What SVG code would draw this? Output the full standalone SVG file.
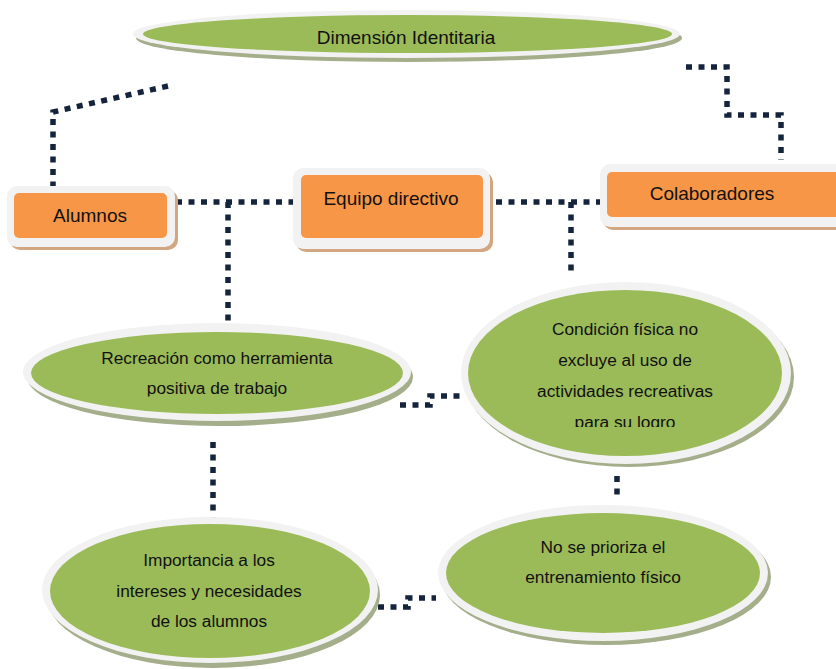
<svg xmlns="http://www.w3.org/2000/svg" width="836" height="669" viewBox="0 0 836 669">
<style>
.conn{fill:none;stroke:#15243d;stroke-width:5.5;stroke-dasharray:6 6.5}
.rim{fill:#f2f2f2}
.bshadow{fill:#d2a680}
.eshadow{fill:#a4ae8a}
.box{fill:#f79646}
.ell{fill:#9bbb59}
text{font-family:"Liberation Sans",Arial,sans-serif;fill:#111;text-anchor:middle}
.t19{font-size:19px}
.t17{font-size:17.3px}
</style>
<defs>
<clipPath id="clipRec"><rect x="0" y="300" width="460" height="96.5"/></clipPath>
<clipPath id="clipCon"><rect x="450" y="280" width="386" height="147"/></clipPath>
</defs>
<rect width="836" height="669" fill="#ffffff"/>

<g id="connectors">
<path class="conn" d="M168,86 L53,112 V188"/>
<path class="conn" d="M176,202 H294"/>
<path class="conn" d="M228,202 V328"/>
<path class="conn" d="M496,202 H600"/>
<path class="conn" d="M571,202 V276"/>
<path class="conn" d="M686,67 H727 V115 H781 V160"/>
<path class="conn" d="M400,405 H430 V396 H460"/>
<path class="conn" d="M213,442 V518"/>
<path class="conn" d="M617,476 V498"/>
<path class="conn" d="M378,607 H408 V598 H436"/>
</g>

<g id="dimension">
<ellipse class="eshadow" cx="409" cy="38" rx="273" ry="24"/>
<ellipse class="rim" cx="406.5" cy="34" rx="273.5" ry="24"/>
<ellipse class="ell" cx="407.5" cy="34" rx="264.5" ry="19"/>
<text class="t19" x="406" y="44">Dimensión Identitaria</text>
</g>

<g id="alumnos">
<rect class="bshadow" x="10" y="190" width="168" height="60" rx="10"/>
<rect class="rim" x="7" y="186" width="168" height="61" rx="10"/>
<rect class="box" x="14" y="193" width="153" height="45" rx="5"/>
<text class="t19" x="90" y="222">Alumnos</text>
</g>

<g id="equipo">
<rect class="bshadow" x="296" y="172" width="197" height="80" rx="10"/>
<rect class="rim" x="293" y="168" width="197" height="81" rx="10"/>
<rect class="box" x="301" y="175" width="182" height="63" rx="5"/>
<text class="t19" x="391" y="205">Equipo directivo</text>
</g>

<g id="colaboradores">
<rect class="bshadow" x="603" y="168" width="250" height="62" rx="10"/>
<rect class="rim" x="600" y="164" width="250" height="63" rx="10"/>
<rect class="box" x="607" y="172" width="240" height="45" rx="5"/>
<text class="t19" x="712" y="200">Colaboradores</text>
</g>

<g id="recreacion">
<ellipse class="eshadow" cx="220" cy="377" rx="193" ry="49"/>
<ellipse class="rim" cx="217" cy="372" rx="194" ry="49"/>
<ellipse class="ell" cx="217" cy="373" rx="186" ry="41"/>
<g clip-path="url(#clipRec)">
<text class="t17" x="217" y="364">Recreación como herramienta</text>
<text class="t17" x="217" y="394">positiva de trabajo</text>
</g>
</g>

<g id="condicion">
<ellipse class="eshadow" cx="629" cy="377" rx="165" ry="90"/>
<ellipse class="rim" cx="626" cy="373" rx="165" ry="91"/>
<ellipse class="ell" cx="625" cy="373" rx="157" ry="83"/>
<g clip-path="url(#clipCon)">
<text class="t17" x="625" y="335">Condición física no</text>
<text class="t17" x="625" y="366">excluye al uso de</text>
<text class="t17" x="625" y="397">actividades recreativas</text>
<text class="t17" x="625" y="428">para su logro</text>
</g>
</g>

<g id="importancia">
<ellipse class="eshadow" cx="213" cy="595" rx="167" ry="73"/>
<ellipse class="rim" cx="210" cy="590" rx="168" ry="73"/>
<ellipse class="ell" cx="210" cy="591" rx="160" ry="67"/>
<text class="t17" x="209" y="566">Importancia a los</text>
<text class="t17" x="209" y="597">intereses y necesidades</text>
<text class="t17" x="209" y="627">de los alumnos</text>
</g>

<g id="noprioriza">
<ellipse class="eshadow" cx="606" cy="577" rx="165" ry="68"/>
<ellipse class="rim" cx="603" cy="573" rx="165" ry="68"/>
<ellipse class="ell" cx="603" cy="573" rx="157" ry="60"/>
<text class="t17" x="603" y="553">No se prioriza el</text>
<text class="t17" x="603" y="583">entrenamiento físico</text>
</g>
</svg>
